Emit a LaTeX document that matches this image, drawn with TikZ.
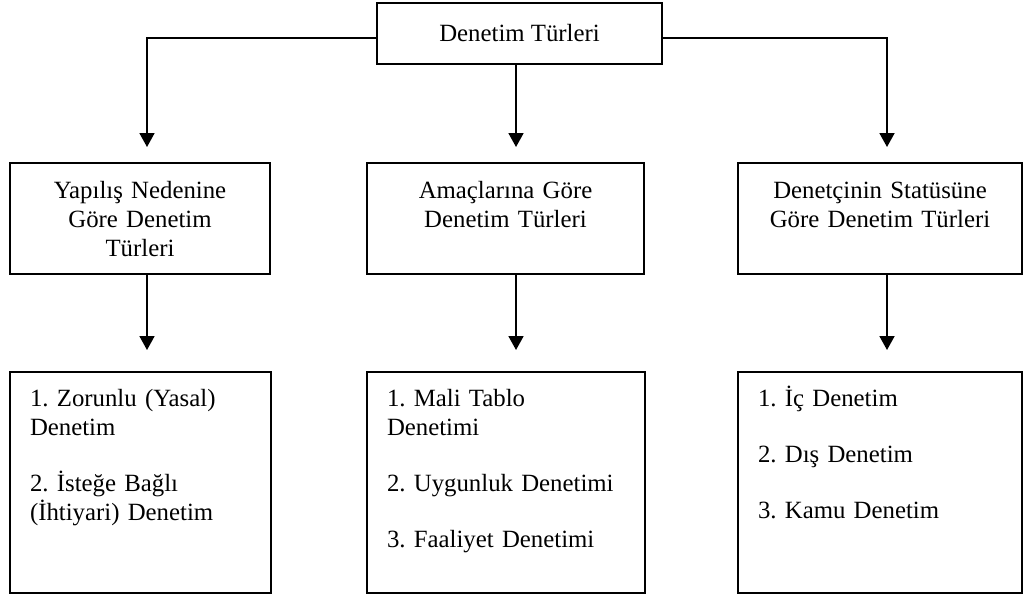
\documentclass[tikz,border=0pt]{standalone}
\usepackage{fontspec}
\setmainfont{Liberation Serif}
\usetikzlibrary{arrows.meta}

\begin{document}
\begin{tikzpicture}[
			x=0.5pt, y=-0.5pt,
			font=\fontsize{12.4}{14.5}\selectfont\frenchspacing,
			Top/.style={draw, line width=0.9pt, minimum width=142.5pt, minimum height=30.5pt, 
				inner sep=0pt, outer sep=0pt},
			T/.style={draw, line width=0.9pt, align=center, inner sep=0pt, outer sep=0pt, 
				text height=17.5pt, text depth=38pt, anchor=north},
			L/.style={draw, line width=0.9pt, align=left, inner xsep=10pt, inner ysep=0pt, 
				outer sep=0pt, text height=17pt, text depth=93.5pt, anchor=north},
			Arr/.style={line width=0.9pt, -{Triangle[length=7pt, width=7.5pt]}},
			]
			\useasboundingbox (0,0) rectangle (1033,596);
			
			\node [Top] (top) at (519.5,33.5) {Denetim Türleri};
			
			\node [T, text width=130pt] (a) at (140,163) {Yapılış Nedenine\\Göre Denetim\\Türleri};
			\node [T, text width=138.5pt] (b) at (505.5,163) {Amaçlarına Göre\\Denetim Türleri};
			\node [T, text width=142pt] (c) at (880,163) {Denetçinin Statüsüne\\Göre Denetim Türleri};
			
			\node [L, text width=110.5pt] (a1) at (140.5,372) {1. Zorunlu (Yasal)\\Denetim\\[13.5pt]
				2. İsteğe Bağlı\\(İhtiyari) Denetim};
			\node [L, text width=119pt] (b1) at (506,372) {1. Mali Tablo\\Denetimi\\[13.5pt]
				2. Uygunluk Denetimi\\[13.5pt]3. Faaliyet Denetimi};
			\node [L, text width=122pt] (c1) at (880,372) {1. İç Denetim\\[13.5pt]
				2. Dış Denetim\\[13.5pt]3. Kamu Denetim};
			
			\draw [Arr, shorten >=8pt] ([yshift=-2.25pt]top.west) -| ([xshift=3.5pt]a.north);
			\draw [Arr, shorten >=8pt] ([xshift=-1.75pt]top.south) -- ([xshift=-1.75pt]top.south |- b.north);
			\draw [Arr, shorten >=8pt] ([yshift=-2.25pt]top.east) -| ([xshift=3.5pt]c.north);
			
			\draw [Arr, shorten >=11pt] ([xshift=3.5pt]a.south) -- ([xshift=3.5pt]a.south |- a1.north);
			\draw [Arr, shorten >=11pt] ([xshift=5.25pt]b.south) -- ([xshift=5.25pt]b.south |- b1.north);
			\draw [Arr, shorten >=11pt] ([xshift=3.5pt]c.south) -- ([xshift=3.5pt]c.south |- c1.north);
		\end{tikzpicture}
\end{document}
